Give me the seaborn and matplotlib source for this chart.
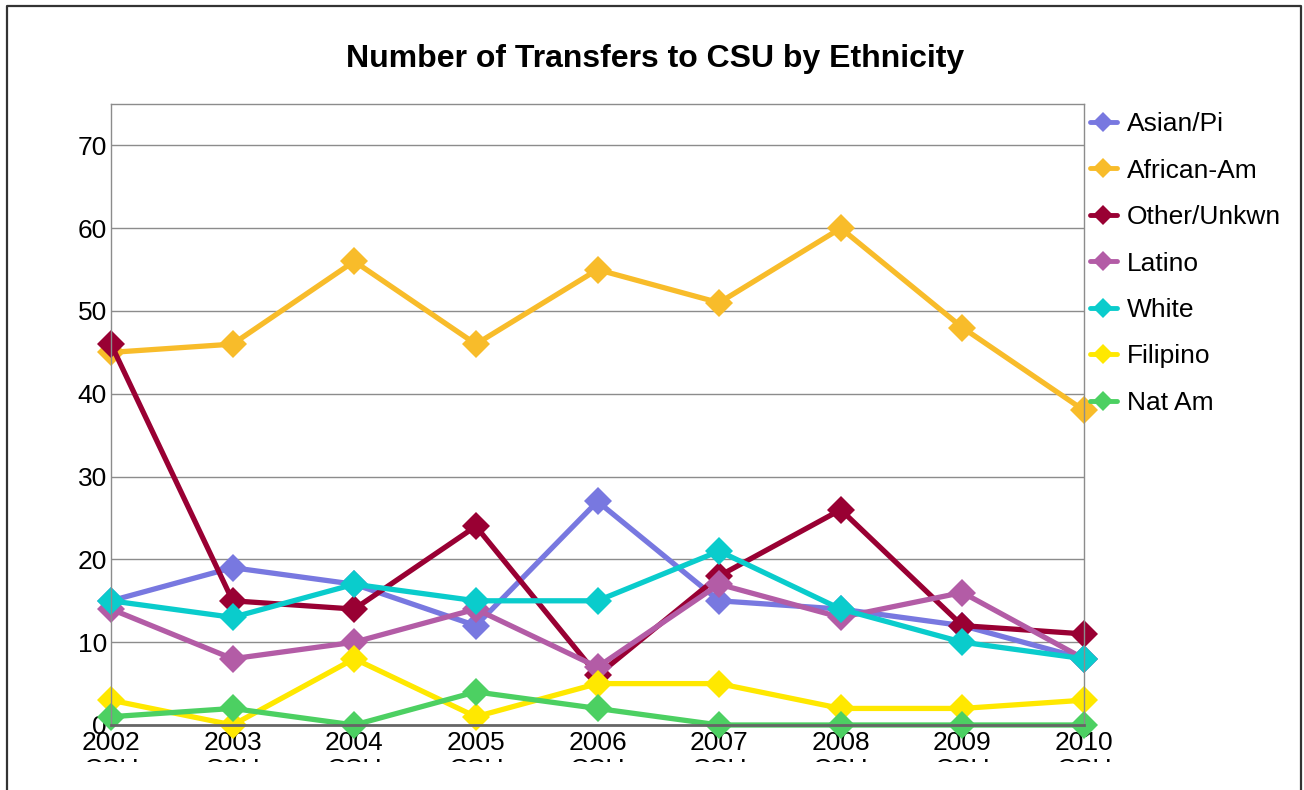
import pandas as pd
import matplotlib.pyplot as plt
import seaborn as sns
from matplotlib.lines import Line2D
from matplotlib.patches import Rectangle

# Data
years = [2002, 2003, 2004, 2005, 2006, 2007, 2008, 2009, 2010]
groups = ['Asian/Pi', 'African-Am', 'Other/Unkwn', 'Latino', 'White', 'Filipino', 'Nat Am']
asian_pi = [15, 19, 17, 12, 27, 15, 14, 12, 8]
african_am = [45, 46, 56, 46, 55, 51, 60, 48, 38]
other_unkwn = [46, 15, 14, 24, 6, 18, 26, 12, 11]
latino = [14, 8, 10, 14, 7, 17, 13, 16, 8]
white = [15, 13, 17, 15, 15, 21, 14, 10, 8]
filipino = [3, 0, 8, 1, 5, 5, 2, 2, 3]
nat_am = [1, 2, 0, 4, 2, 0, 0, 0, 0]
tick_labels = [f'{y}\nCSU' for y in years]

colors = ['#7878e0', '#f8bc2a', '#990033', '#b35ca6', '#0acccc', '#ffe800', '#4cd062']

series = [asian_pi, african_am, other_unkwn, latino, white, filipino, nat_am]
rows = []
for g, vals in zip(groups, series):
    for y, v in zip(years, vals):
        rows.append({'Year': y, 'Group': g, 'Value': v})
df = pd.DataFrame(rows)

sns.set_style("white")
plt.rcParams['font.family'] = ['Liberation Sans', 'DejaVu Sans']
plt.rcParams['text.color'] = 'black'
plt.rcParams['xtick.color'] = 'black'
plt.rcParams['ytick.color'] = 'black'

fig = plt.figure(figsize=(13.04, 7.9), dpi=100)
ax = fig.add_axes([111 / 1304, 65 / 790, (1084 - 111) / 1304, (725 - 104) / 790])

sns.lineplot(data=df, x='Year', y='Value', hue='Group', hue_order=groups,
             palette=colors, marker='D', markersize=14, linewidth=3.8,
             markeredgewidth=0, clip_on=False, ax=ax, legend=False)

ax.set_xlim(2002, 2010)
ax.set_ylim(0, 75)
ax.set_yticks(range(0, 80, 10))
ax.set_xticks(years)
ax.set_xticklabels(tick_labels, fontsize=19, linespacing=1.2)
ax.tick_params(axis='y', labelsize=19, length=0, pad=3)
ax.tick_params(axis='x', length=0, pad=4)
ax.set_xlabel('')
ax.set_ylabel('')
ax.yaxis.grid(True, color='#8c8c8c', linewidth=1)
ax.set_axisbelow(True)
for side in ['left', 'top', 'right']:
    ax.spines[side].set_color('#8c8c8c')
    ax.spines[side].set_linewidth(1)
ax.spines['bottom'].set_color('#666666')
ax.spines['bottom'].set_linewidth(2)

fig.text(655 / 1304, 1 - 59 / 790, 'Number of Transfers to CSU by Ethnicity',
         ha='center', va='center', fontsize=23, fontweight='bold', color='black')

handles = [Line2D([], [], color=c, marker='D', markersize=10, linewidth=3.5,
                  markeredgewidth=0) for c in colors]
fig.legend(handles, groups, loc='upper left', bbox_to_anchor=(1085 / 1304, 1 - 107 / 790),
           frameon=False, fontsize=19, handlelength=1.0, handletextpad=0.38,
           labelspacing=0.85, borderaxespad=0, borderpad=0.2)

# the lower part of the picture is cut off
fig.add_artist(Rectangle((0, 0), 1, (790 - 762) / 790, transform=fig.transFigure,
                         facecolor='white', edgecolor='none', zorder=10))
# outer border (open at the bottom)
bx0, bx1, by = 7 / 1304, 1301 / 1304, 1 - 6 / 790
fig.add_artist(Line2D([bx0, bx0, bx1, bx1], [0, by, by, 0], transform=fig.transFigure,
                      color='#333333', linewidth=1.6, zorder=11))

fig.savefig('out.png', dpi=100)
